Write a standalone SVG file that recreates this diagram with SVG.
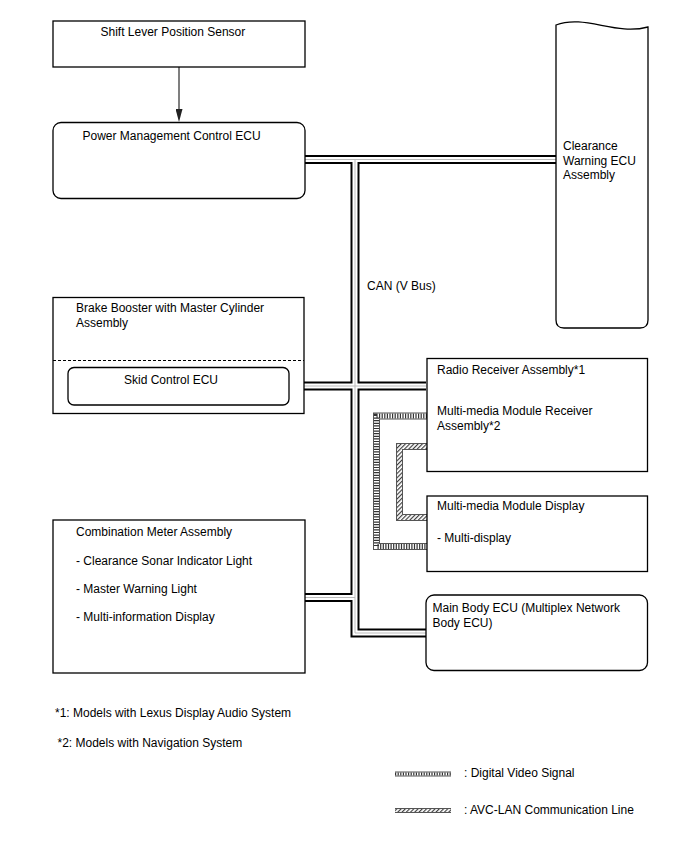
<svg xmlns="http://www.w3.org/2000/svg" width="688" height="852" viewBox="0 0 688 852">
<style>
  .box{fill:#fff;stroke:#000;stroke-width:1.3}
  .t{font-family:"Liberation Sans",Arial,Helvetica,sans-serif;font-size:12px;fill:#000}
  .busB{fill:none;stroke:#000;stroke-width:9;stroke-linejoin:miter}
  .busW{fill:none;stroke:#fff;stroke-width:5;stroke-linejoin:miter}
  .busG{fill:none;stroke:#bbb;stroke-width:1;stroke-linejoin:miter}
  .hO{fill:none;stroke:#555;stroke-width:7;stroke-linejoin:miter}
  .hW{fill:none;stroke:#fff;stroke-width:5;stroke-linejoin:miter}
  .tick{fill:none;stroke:#333;stroke-width:5;stroke-dasharray:1.2 1.4}
  .diag{fill:none;stroke:url(#diag);stroke-width:5;stroke-linejoin:miter}
  .lO{fill:none;stroke:#555;stroke-width:5}
  .lW{fill:none;stroke:#fff;stroke-width:3}
  .ltick{fill:none;stroke:#333;stroke-width:3;stroke-dasharray:1.2 1.4}
  .ldiag{fill:none;stroke:url(#diag);stroke-width:3}
</style>
<defs>
  <pattern id="diag" patternUnits="userSpaceOnUse" width="3" height="3" patternTransform="rotate(45)">
    <rect width="3" height="3" fill="#fff"/>
    <line x1="0.6" y1="0" x2="0.6" y2="3" stroke="#333" stroke-width="1.1"/>
  </pattern>
  <marker id="arr" viewBox="0 0 13 7" refX="13" refY="3.5" markerUnits="userSpaceOnUse" markerWidth="13" markerHeight="7" orient="auto">
    <path d="M0,0 L13,3.5 L0,7 Z" fill="#222"/>
  </marker>
  <path id="bus" d="M305,159.5 H556 M355,159.5 V633 H426 M289,386 H426 M305,597.5 H355"/>
  <path id="dvs" d="M427,416 H376.5 V546.5 H427"/>
  <path id="avc" d="M427,446.5 H399.5 V517.5 H427"/>
</defs>
<rect width="688" height="852" fill="#fff"/>

<g id="connectors">
  <line x1="179" y1="67" x2="179" y2="118" stroke="#555" stroke-width="1.5"/>
  <line x1="179" y1="110" x2="179" y2="122" stroke="none" marker-end="url(#arr)"/>
  <use href="#bus" class="busB"/>
  <use href="#bus" class="busW"/>
  <use href="#bus" class="busG"/>
  <use href="#dvs" class="hO"/>
  <use href="#dvs" class="hW"/>
  <use href="#dvs" class="tick"/>
  <use href="#avc" class="hO"/>
  <use href="#avc" class="diag"/>
  <text class="t" x="367" y="289.5">CAN (V Bus)</text>
</g>

<g id="shift-lever">
  <rect class="box" x="53" y="21" width="252" height="46"/>
  <text class="t" x="100.5" y="36">Shift Lever Position Sensor</text>
</g>

<g id="pm-ecu">
  <rect class="box" x="53" y="122.5" width="252" height="76" rx="8"/>
  <text class="t" x="82.5" y="140">Power Management Control ECU</text>
</g>

<g id="clearance-ecu">
  <path class="box" d="M556,320 V25 C585,14 615,36 648,27 V320 Q648,328 640,328 H564 Q556,328 556,320 Z"/>
  <text class="t" x="563" y="150">Clearance</text>
  <text class="t" x="563" y="164.5">Warning ECU</text>
  <text class="t" x="563" y="179">Assembly</text>
</g>

<g id="brake-booster">
  <rect class="box" x="53" y="297.5" width="251" height="116"/>
  <text class="t" x="76" y="311.5">Brake Booster with Master Cylinder</text>
  <text class="t" x="76" y="326.5">Assembly</text>
  <line x1="53" y1="360.5" x2="304" y2="360.5" stroke="#000" stroke-width="1.1" stroke-dasharray="3 2"/>
</g>

<g id="skid-ecu">
  <rect class="box" x="68" y="367.5" width="221" height="37.5" rx="6"/>
  <text class="t" x="124" y="383.5">Skid Control ECU</text>
</g>

<g id="radio-receiver">
  <rect class="box" x="427" y="358.5" width="220.5" height="113"/>
  <text class="t" x="437" y="373.5">Radio Receiver Assembly*1</text>
  <text class="t" x="437" y="415">Multi-media Module Receiver</text>
  <text class="t" x="437" y="430">Assembly*2</text>
</g>

<g id="mm-display">
  <rect class="box" x="427" y="496" width="220.5" height="75.5"/>
  <text class="t" x="437" y="510">Multi-media Module Display</text>
  <text class="t" x="437" y="541.5">- Multi-display</text>
</g>

<g id="combination-meter">
  <rect class="box" x="53" y="520" width="252" height="153"/>
  <text class="t" x="76" y="536">Combination Meter Assembly</text>
  <text class="t" x="76" y="564.5">- Clearance Sonar Indicator Light</text>
  <text class="t" x="76" y="592.5">- Master Warning Light</text>
  <text class="t" x="76" y="621">- Multi-information Display</text>
</g>

<g id="main-body-ecu">
  <rect class="box" x="426" y="595" width="221.5" height="75.5" rx="8"/>
  <text class="t" x="432.5" y="611.5">Main Body ECU (Multiplex Network</text>
  <text class="t" x="432.5" y="626.5">Body ECU)</text>
</g>

<g id="notes">
  <text class="t" x="55" y="716.5">*1: Models with Lexus Display Audio System</text>
  <text class="t" x="57.5" y="746.5">*2: Models with Navigation System</text>
</g>

<g id="legend">
  <path class="lO" d="M395,774 H451"/>
  <path class="lW" d="M395,774 H451"/>
  <path class="ltick" d="M395,774 H451"/>
  <text class="t" x="464" y="776.5">: Digital Video Signal</text>
  <path class="lO" d="M395,810.5 H451"/>
  <path class="ldiag" d="M395,810.5 H451"/>
  <text class="t" x="464" y="814">: AVC-LAN Communication Line</text>
</g>
</svg>
